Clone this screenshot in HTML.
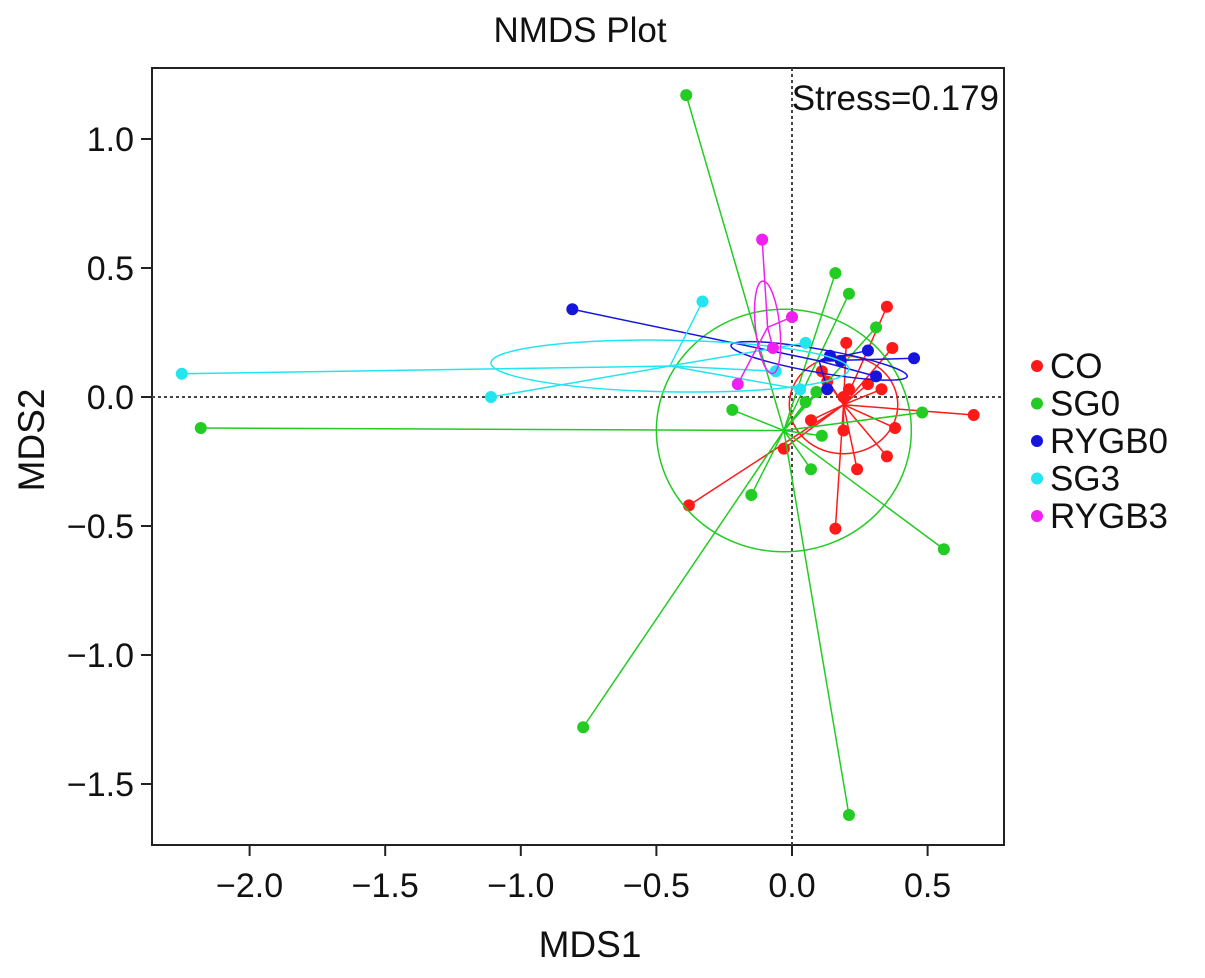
<!DOCTYPE html>
<html><head><meta charset="utf-8"><style>
body{margin:0;background:#fff}
svg text{font-family:"Liberation Sans",sans-serif;fill:#111}
</style></head><body>
<svg id="c" width="1205" height="973" xmlns="http://www.w3.org/2000/svg"></svg>
<script>
const groups=["CO","SG0","RYGB0","SG3","RYGB3"];
const colors=["#ff1a1a","#22cc22","#1515dd","#22e5f0","#f020f0"];
const coX=[0.35,0.20,0.37,0.28,0.33,0.21,0.19,0.67,0.07,0.38,0.19,0.35,0.24,-0.03,0.11,0.13,-0.38,0.16];
const coY=[0.35,0.21,0.19,0.05,0.03,0.03,0.00,-0.07,-0.09,-0.12,-0.13,-0.23,-0.28,-0.20,0.10,0.06,-0.42,-0.51];
const sg0X=[-0.39,0.16,0.21,0.31,-0.22,0.48,0.11,0.07,-0.15,-2.18,-0.77,0.56,0.21,0.09,0.05];
const sg0Y=[1.17,0.48,0.40,0.27,-0.05,-0.06,-0.15,-0.28,-0.38,-0.12,-1.28,-0.59,-1.62,0.02,-0.02];
const rygb0X=[-0.81,0.45,0.14,0.18,0.28,0.31,0.13];
const rygb0Y=[0.34,0.15,0.16,0.14,0.18,0.08,0.03];
const sg3X=[-2.25,-1.11,-0.33,-0.06,0.05,0.03];
const sg3Y=[0.09,0.00,0.37,0.10,0.21,0.03];
const rygb3X=[-0.11,0.00,-0.20,-0.07];
const rygb3Y=[0.61,0.31,0.05,0.19];
const centX=[0.19,-0.03,0.10,-0.45,-0.09];
const centY=[-0.03,-0.13,0.14,0.12,0.27];
const ellRx=[0.20,0.47,0.33,0.66,0.045];
const ellRy=[0.19,0.47,0.045,0.10,0.18];
const ellAng=[0,0,10,1,-6];
const xTicks=[-2.0,-1.5,-1.0,-0.5,0.0,0.5];
const yTicks=[1.0,0.5,0.0,-0.5,-1.0,-1.5];
const xLabels=["\u22122.0","\u22121.5","\u22121.0","\u22120.5","0.0","0.5"];
const yLabels=["1.0","0.5","0.0","\u22120.5","\u22121.0","\u22121.5"];
const X=v=>792+v*271.2, Y=v=>397-v*258;
const svg=document.getElementById('c'), NS="http://www.w3.org/2000/svg";
function mk(t,a,p){const e=document.createElementNS(NS,t);for(const k in a)e.setAttribute(k,a[k]);(p||svg).appendChild(e);return e;}
let e;
e=mk('rect',{x:152,y:68,width:852,height:777,fill:'none',stroke:'#222','stroke-width':2});


e=mk('line',{x1:152,x2:1004,y1:Y(0),y2:Y(0),stroke:'#444','stroke-width':2,'stroke-dasharray':'3,3'});


e=mk('line',{x1:X(0),x2:X(0),y1:68,y2:845,stroke:'#444','stroke-width':2,'stroke-dasharray':'3,3'});


xTicks.forEach((v,i)=>{
 e=mk('line',{x1:X(v),x2:X(v),y1:845,y2:856,stroke:'#222','stroke-width':2});
 
 
 e=mk('text',{x:X(v),y:897,'font-size':34,'text-anchor':'middle'});e.textContent=xLabels[i];
 
 
});
yTicks.forEach((v,i)=>{
 e=mk('line',{x1:141,x2:152,y1:Y(v),y2:Y(v),stroke:'#222','stroke-width':2});
 
 
 e=mk('text',{x:134,y:Y(v)+12,'font-size':34,'text-anchor':'end'});e.textContent=yLabels[i];
 
 
});
const xs=[coX,sg0X,rygb0X,sg3X,rygb3X], ys=[coY,sg0Y,rygb0Y,sg3Y,rygb3Y];
groups.forEach((g,gi)=>{
 const gEl=mk('g',{});
 
 
 const cx=X(centX[gi]),cy=Y(centY[gi]);
 e=mk('ellipse',{cx:cx,cy:cy,rx:ellRx[gi]*271.2,ry:ellRy[gi]*258,fill:'none',stroke:colors[gi],'stroke-width':1.5,transform:`rotate(${ellAng[gi]} ${cx} ${cy})`},gEl);
 
 
 xs[gi].forEach((v,i)=>{
  e=mk('line',{x1:cx,y1:cy,x2:X(v),y2:Y(ys[gi][i]),stroke:colors[gi],'stroke-width':1.5},gEl);
  
  
 });
 xs[gi].forEach((v,i)=>{
  e=mk('circle',{cx:X(v),cy:Y(ys[gi][i]),r:6,fill:colors[gi]},gEl);
  
  
 });
 e=mk('circle',{cx:1037,cy:366+gi*37.5,r:6,fill:colors[gi]});
 
 
 e=mk('text',{x:1050,y:378+gi*37.5,'font-size':35});e.textContent=g;
 
 
});
e=mk('text',{x:580,y:42,'font-size':35,'text-anchor':'middle'});e.textContent='NMDS Plot';


e=mk('text',{x:999,y:110,'font-size':35,'text-anchor':'end'});e.textContent='Stress=0.179';


e=mk('text',{x:590,y:957,'font-size':37,'text-anchor':'middle'});e.textContent='MDS1';


e=mk('text',{x:44,y:440,'font-size':37,'text-anchor':'middle',transform:'rotate(-90 44 440)'});e.textContent='MDS2';


</script>
</body></html>
